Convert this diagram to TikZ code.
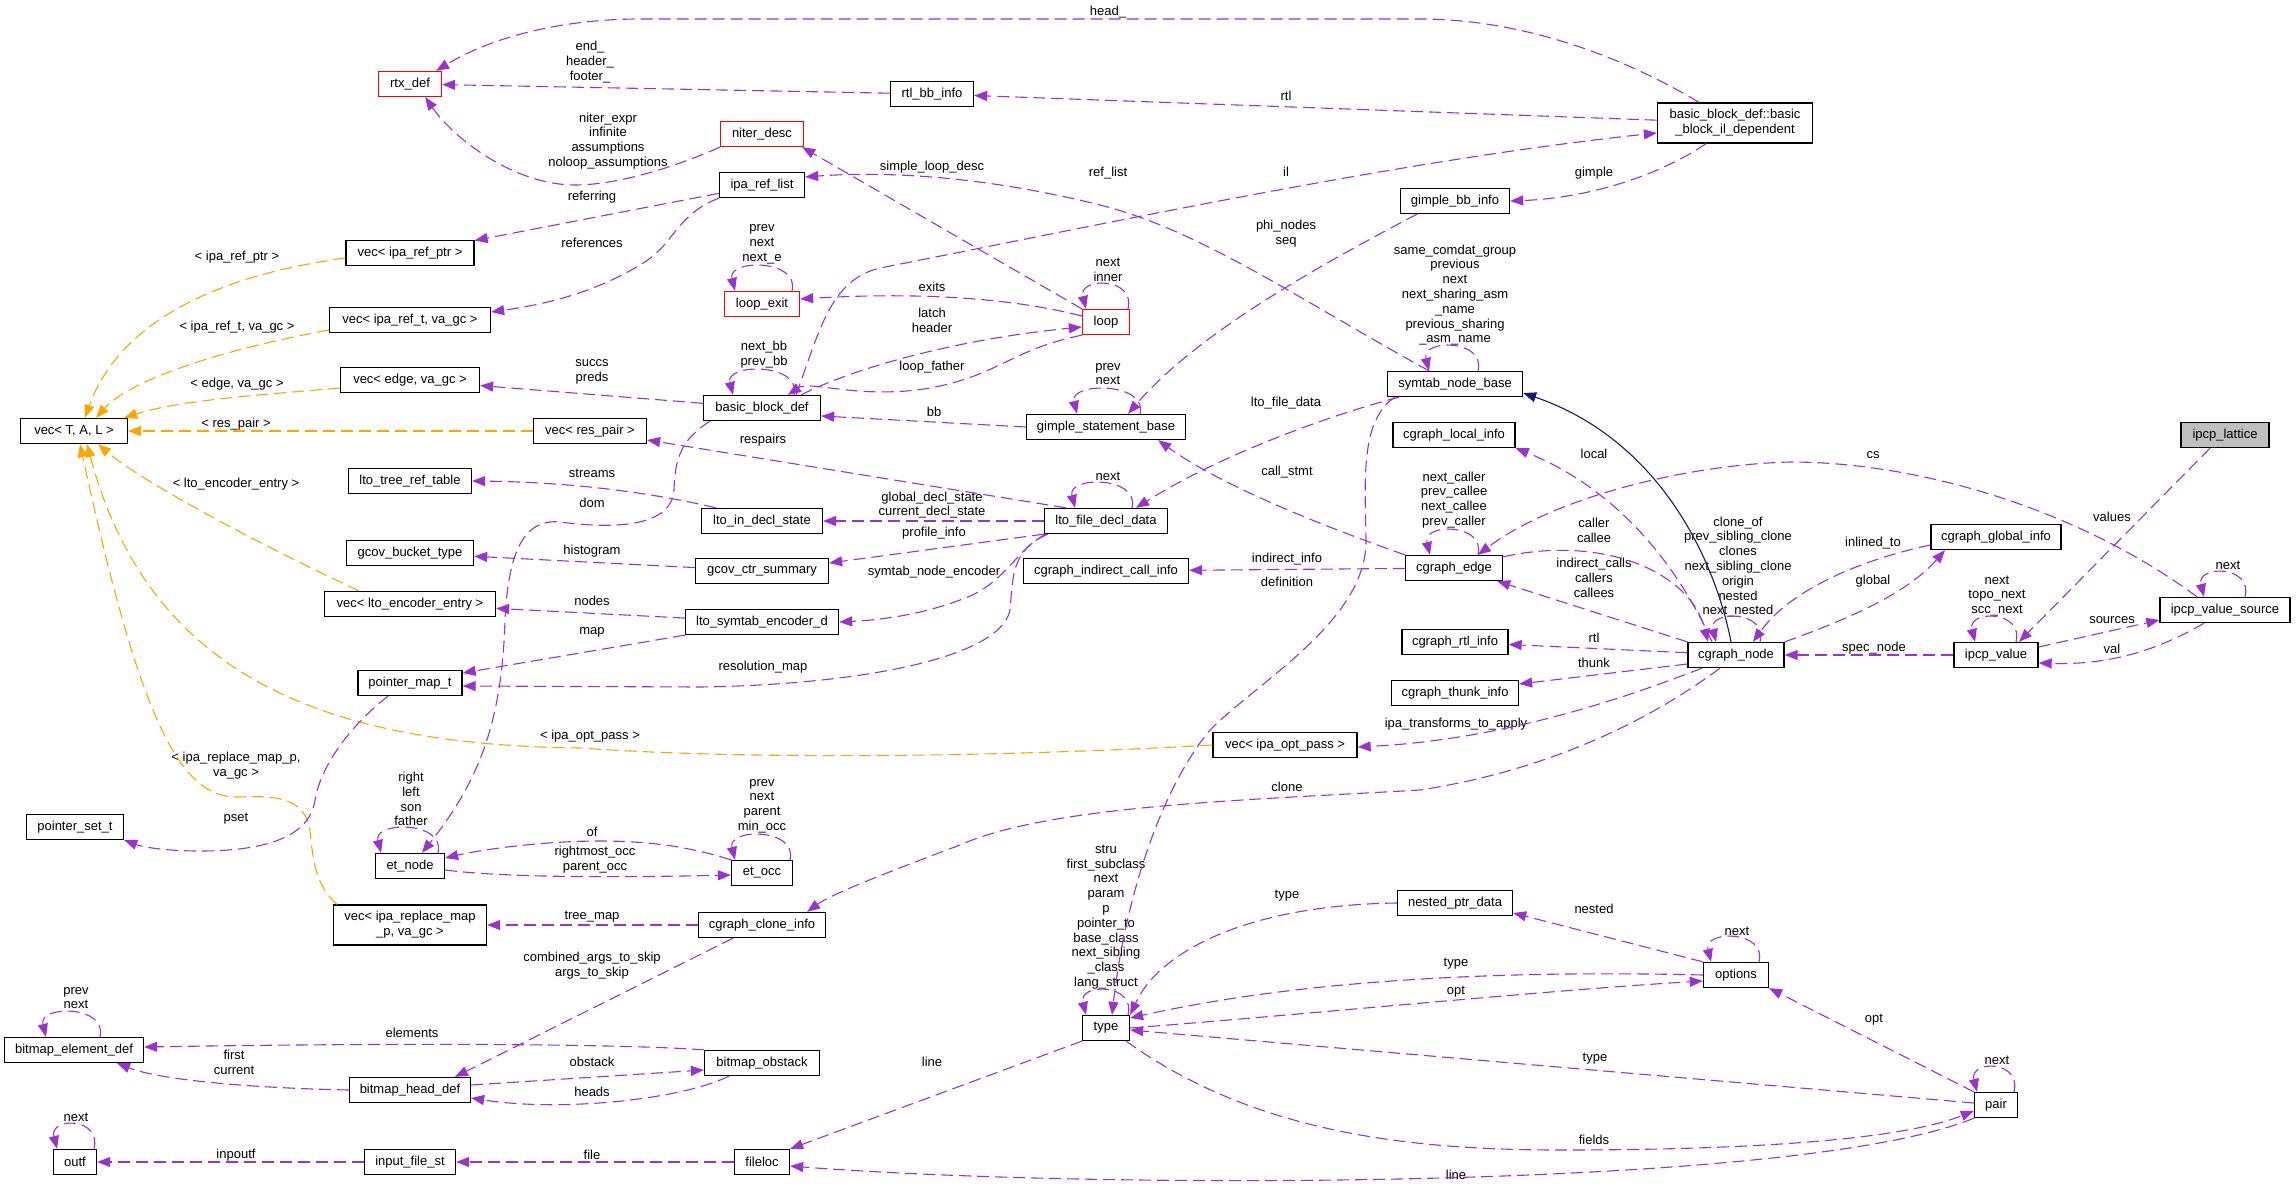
\documentclass[tikz,border=0pt]{standalone}
\usepackage{fontspec}
\setmainfont{Liberation Sans}
\usepackage{tikz}
\usetikzlibrary{arrows.meta}
\usepackage{xcolor}
\definecolor{depline}{RGB}{154,50,205}
\definecolor{tmplline}{RGB}{255,165,0}
\definecolor{inhline}{RGB}{25,25,112}
\definecolor{hotred}{RGB}{255,0,0}
\definecolor{rootgray}{RGB}{191,191,191}
\newcommand{\selfloop}[3]{\draw[dep] ([xshift=#2pt]#1.north) .. controls +(8,-32) and +(-8,-32) .. ([xshift=-#3pt]#1.north);}

\begin{document}
\begin{tikzpicture}[
  x=1pt, y=-1pt,
  box/.style={draw=black, line width=1.3pt, fill=white, minimum height=25pt, inner sep=2pt, align=center, font=\fontsize{13}{14.8}\selectfont},
  hot/.style={box, draw=hotred},
  root/.style={box, fill=rootgray},
  dep/.style={draw=depline, line width=1.1pt, dash pattern=on 12pt off 6pt, -{Triangle[length=13pt,width=10pt]}},
  tmpl/.style={dep, draw=tmplline},
  inh/.style={draw=inhline, line width=1.1pt, -{Triangle[length=13pt,width=10pt]}},
  lbl/.style={align=center, inner sep=0pt, font=\fontsize{13}{14.8}\selectfont}
]
\useasboundingbox (0,0) rectangle (2296,1188);

\node[hot, minimum width=63pt] (rtx) at (410,84) {rtx\_def};
\node[box, minimum width=83pt] (rtlbb) at (932,94) {rtl\_bb\_info};
\node[box, minimum width=155pt, minimum height=40pt] (bbil) at (1735,123) {basic\_block\_def::basic\\\_block\_il\_dependent};
\node[hot, minimum width=83pt] (niter) at (762,134) {niter\_desc};
\node[box, minimum width=85pt] (iparl) at (762,185) {ipa\_ref\_list};
\node[box, minimum width=128pt] (vecptr) at (410,253) {vec< ipa\_ref\_ptr >};
\node[box, minimum width=161pt] (vecref) at (410,320) {vec< ipa\_ref\_t, va\_gc >};
\node[box, minimum width=139pt] (vecedge) at (410,380) {vec< edge, va\_gc >};
\node[box, minimum width=107pt] (vectal) at (74,431) {vec< T, A, L >};
\node[box, minimum width=113pt] (vecres) at (590,431) {vec< res\_pair >};
\node[box, minimum width=117pt] (bb) at (762,408) {basic\_block\_def};
\node[hot, minimum width=75pt] (loopexit) at (762,304) {loop\_exit};
\node[hot, minimum width=47pt] (loop) at (1106,322) {loop};
\node[box, minimum width=109pt] (gbb) at (1455,201) {gimple\_bb\_info};
\node[box, minimum width=135pt] (symtab) at (1455,384) {symtab\_node\_base};
\node[box, minimum width=159pt] (gsb) at (1106,427) {gimple\_statement\_base};
\node[box, minimum width=123pt] (ltotree) at (410,481) {lto\_tree\_ref\_table};
\node[box, minimum width=121pt] (ltoin) at (762,521) {lto\_in\_decl\_state};
\node[box, minimum width=123pt] (ltofile) at (1106,521) {lto\_file\_decl\_data};
\node[box, minimum width=127pt] (gcovbucket) at (410,553) {gcov\_bucket\_type};
\node[box, minimum width=133pt] (gcovctr) at (762,571) {gcov\_ctr\_summary};
\node[box, minimum width=165pt] (indirect) at (1106,571) {cgraph\_indirect\_call\_info};
\node[box, minimum width=171pt] (vecenc) at (410,604) {vec< lto\_encoder\_entry >};
\node[box, minimum width=153pt] (symenc) at (762,622) {lto\_symtab\_encoder\_d};
\node[box, minimum width=104pt] (pmap) at (410,683) {pointer\_map\_t};
\node[box, minimum width=122pt] (localinfo) at (1454,435) {cgraph\_local\_info};
\node[box, minimum width=97pt] (cedge) at (1454,568) {cgraph\_edge};
\node[box, minimum width=106pt] (rtlinfo) at (1455,642) {cgraph\_rtl\_info};
\node[box, minimum width=127pt] (thunk) at (1455,693) {cgraph\_thunk\_info};
\node[box, minimum width=144pt] (vecopt) at (1285,745) {vec< ipa\_opt\_pass >};
\node[box, minimum width=96pt] (cnode) at (1736,655) {cgraph\_node};
\node[root, minimum width=88pt] (lattice) at (2225,435) {ipcp\_lattice};
\node[box, minimum width=130pt] (globalinfo) at (1996,537) {cgraph\_global\_info};
\node[box, minimum width=130pt] (vsource) at (2225,610) {ipcp\_value\_source};
\node[box, minimum width=84pt] (ipcpval) at (1996,655) {ipcp\_value};
\node[box, minimum width=97pt] (pset) at (75,827) {pointer\_set\_t};
\node[box, minimum width=69pt] (etnode) at (410,866) {et\_node};
\node[box, minimum width=153pt, minimum height=40pt] (vecrep) at (410,925) {vec< ipa\_replace\_map\\\_p, va\_gc >};
\node[box, minimum width=139pt] (bed) at (74,1050) {bitmap\_element\_def};
\node[box, minimum width=121pt] (bhd) at (410,1090) {bitmap\_head\_def};
\node[box, minimum width=43pt] (outf) at (75,1162) {outf};
\node[box, minimum width=91pt] (infile) at (410,1162) {input\_file\_st};
\node[box, minimum width=61pt] (etocc) at (762,873) {et\_occ};
\node[box, minimum width=127pt] (cloneinfo) at (762,925) {cgraph\_clone\_info};
\node[box, minimum width=115pt] (bobstack) at (762,1063) {bitmap\_obstack};
\node[box, minimum width=55pt] (fileloc) at (762,1162) {fileloc};
\node[box, minimum width=47pt] (type) at (1106,1028) {type};
\node[box, minimum width=115pt] (nptr) at (1455,903) {nested\_ptr\_data};
\node[box, minimum width=65pt] (options) at (1736,975) {options};
\node[box, minimum width=43pt] (pair) at (1996,1105) {pair};

\node[lbl] (lHead) at (1108,12) {head\_};
\node[lbl] (lEnd) at (590,62) {end\_\\header\_\\footer\_};
\node[lbl] (lRtl) at (1286,96) {rtl};
\node[lbl] (lNiter) at (608,141) {niter\_expr\\infinite\\assumptions\\noloop\_assumptions};
\node[lbl] (lSimple) at (932,167) {simple\_loop\_desc};
\node[lbl] (lRefList) at (1108,173) {ref\_list};
\node[lbl] (lIl) at (1286,172) {il};
\node[lbl] (lGimple) at (1594,173) {gimple};
\node[lbl] (lReferring) at (592,197) {referring};
\node[lbl] (lPhi) at (1286,234) {phi\_nodes\\seq};
\node[lbl] (lReferences) at (592,243) {references};
\node[lbl] (lExitLoop) at (762,244) {prev\\next\\next\_e};
\node[lbl] (lLoopLoop) at (1108,270) {next\\inner};
\node[lbl] (lSymLoop) at (1455,295) {same\_comdat\_group\\previous\\next\\next\_sharing\_asm\\\_name\\previous\_sharing\\\_asm\_name};
\node[lbl] (lExits) at (932,287) {exits};
\node[lbl] (lLatch) at (932,320) {latch\\header};
\node[lbl] (lBbLoop) at (764,355) {next\_bb\\prev\_bb};
\node[lbl] (lLoopFather) at (932,367) {loop\_father};
\node[lbl] (lSuccs) at (592,372) {succs\\preds};
\node[lbl] (lGsbLoop) at (1108,374) {prev\\next};
\node[lbl] (lIpaRefPtr) at (237,257) {< ipa\_ref\_ptr >};
\node[lbl] (lIpaRefT) at (237,327) {< ipa\_ref\_t, va\_gc >};
\node[lbl] (lEdgeVa) at (237,384) {< edge, va\_gc >};
\node[lbl] (lResPair) at (236,424) {< res\_pair >};
\node[lbl] (lEncEntry) at (236,484) {< lto\_encoder\_entry >};
\node[lbl] (lOptPass) at (590,736) {< ipa\_opt\_pass >};
\node[lbl] (lRepMap) at (236,766) {< ipa\_replace\_map\_p,\\va\_gc >};
\node[lbl] (lLtoFileData) at (1286,403) {lto\_file\_data};
\node[lbl] (lBb) at (934,412) {bb};
\node[lbl] (lRespairs) at (763,440) {respairs};
\node[lbl] (lStreams) at (592,473) {streams};
\node[lbl] (lFileLoop) at (1108,476) {next};
\node[lbl] (lDom) at (592,503) {dom};
\node[lbl] (lDeclState) at (932,505) {global\_decl\_state\\current\_decl\_state};
\node[lbl] (lProfile) at (934,533) {profile\_info};
\node[lbl] (lHistogram) at (592,551) {histogram};
\node[lbl] (lSymEnc) at (934,572) {symtab\_node\_encoder};
\node[lbl] (lNodes) at (592,601) {nodes};
\node[lbl] (lMap) at (592,632) {map};
\node[lbl] (lResMap) at (763,667) {resolution\_map};
\node[lbl] (lCallStmt) at (1287,472) {call\_stmt};
\node[lbl] (lLocal) at (1594,454) {local};
\node[lbl] (lEdgeLoop) at (1454,500) {next\_caller\\prev\_callee\\next\_callee\\prev\_caller};
\node[lbl] (lCaller) at (1594,530) {caller\\callee};
\node[lbl] (lIndInfo) at (1287,559) {indirect\_info};
\node[lbl] (lDefinition) at (1287,582) {definition};
\node[lbl] (lCallers) at (1594,578) {indirect\_calls\\callers\\callees};
\node[lbl] (lRtlInfo) at (1594,638) {rtl};
\node[lbl] (lThunk) at (1594,663) {thunk};
\node[lbl] (lTransforms) at (1456,724) {ipa\_transforms\_to\_apply};
\node[lbl] (lClone) at (1287,787) {clone};
\node[lbl] (lNodeLoop) at (1738,567) {clone\_of\\prev\_sibling\_clone\\clones\\next\_sibling\_clone\\origin\\nested\\next\_nested};
\node[lbl] (lCs) at (1873,455) {cs};
\node[lbl] (lValues) at (2112,517) {values};
\node[lbl] (lInlined) at (1873,543) {inlined\_to};
\node[lbl] (lGlobal) at (1873,581) {global};
\node[lbl] (lValLoop) at (1997,596) {next\\topo\_next\\scc\_next};
\node[lbl] (lSrcLoop) at (2228,565) {next};
\node[lbl] (lSources) at (2112,620) {sources};
\node[lbl] (lSpec) at (1874,648) {spec\_node};
\node[lbl] (lVal) at (2112,649) {val};
\node[lbl] (lPset) at (236,819) {pset};
\node[lbl] (lEtLoop) at (411,799) {right\\left\\son\\father};
\node[lbl] (lOccLoop) at (762,806) {prev\\next\\parent\\min\_occ};
\node[lbl] (lOf) at (592,832) {of};
\node[lbl] (lRightmost) at (595,860) {rightmost\_occ\\parent\_occ};
\node[lbl] (lTreeMap) at (592,917) {tree\_map};
\node[lbl] (lTypeLoop) at (1106,917) {stru\\first\_subclass\\next\\param\\p\\pointer\_to\\base\_class\\next\_sibling\\\_class\\lang\_struct};
\node[lbl] (lNestedType) at (1287,896) {type};
\node[lbl] (lNested) at (1594,909) {nested};
\node[lbl] (lOptLoop) at (1737,931) {next};
\node[lbl] (lOptType) at (1456,964) {type};
\node[lbl] (lOptOpt) at (1456,992) {opt};
\node[lbl] (lPairOpt) at (1874,1020) {opt};
\node[lbl] (lArgs) at (592,966) {combined\_args\_to\_skip\\args\_to\_skip};
\node[lbl] (lBedLoop) at (76,998) {prev\\next};
\node[lbl] (lElements) at (412,1033) {elements};
\node[lbl] (lFirst) at (234,1062) {first\\current};
\node[lbl] (lObstack) at (592,1062) {obstack};
\node[lbl] (lLine) at (932,1062) {line};
\node[lbl] (lPairLoop) at (1997,1060) {next};
\node[lbl] (lPairType) at (1595,1059) {type};
\node[lbl] (lHeads) at (592,1092) {heads};
\node[lbl] (lOutfLoop) at (76,1117) {next};
\node[lbl] (lFields) at (1594,1140) {fields};
\node[lbl] (lInpoutf) at (236,1155) {inpoutf};
\node[lbl] (lFile) at (592,1155) {file};
\node[lbl] (lPairLine) at (1456,1175) {line};

\draw[dep] ([xshift=-36pt]bbil.north) .. controls (1620,55) and (1520,19) .. (1420,19) -- (640,19) .. controls (560,19) and (490,38) .. ([xshift=-6pt]rtx.north east);
\draw[dep] (rtlbb) -- (rtx);
\draw[dep] (bbil) -- (rtlbb);
\draw[dep] (niter.south west) .. controls (680,165) and (620,185) .. (575,185) .. controls (515,185) and (455,140) .. ([xshift=-17pt]rtx.south east);
\draw[dep] (iparl) -- (vecptr);
\draw[dep] (iparl.south west) .. controls (675,215) and (675,245) .. (640,265) .. controls (590,295) and (540,305) .. ([yshift=8pt]vecref.east);
\draw[tmpl] ([yshift=-5pt]vecptr.west) .. controls (220,275) and (120,320) .. ([xshift=11pt]vectal.north);
\draw[tmpl] ([yshift=-10pt]vecref.west) .. controls (220,350) and (130,380) .. ([xshift=22pt]vectal.north);
\draw[tmpl] ([yshift=-8pt]vecedge.west) .. controls (260,395) and (180,400) .. ([xshift=-4pt]vectal.north east);
\draw[tmpl] (vecres) -- (vectal);
\draw[tmpl] ([xshift=-51pt]vecenc.north) .. controls (250,540) and (140,480) .. ([xshift=24pt]vectal.south);
\draw[tmpl] (vecopt.west) .. controls (1000,757) and (750,760) .. (580,748) .. controls (330,745) and (150,680) .. ([xshift=13pt]vectal.south);
\draw[tmpl] ([xshift=-73pt]vecrep.north) .. controls (315,885) and (313,860) .. (310,830) .. controls (305,800) and (280,795) .. (240,797) .. controls (180,800) and (140,720) .. ([xshift=6pt]vectal.south);
\draw[dep] (bb) -- (vecedge);
\selfloop{bb}{32}{29}
\draw[dep] ([xshift=-20pt]bb.north east) .. controls (850,370) and (950,340) .. ([yshift=-5pt]loop.west);
\draw[dep] (loop.south west) .. controls (1010,350) and (1000,375) .. (930,388) .. controls (860,400) and (810,380) .. ([xshift=26pt]bb.north);
\draw[dep] ([yshift=6pt]loop.west) .. controls (1000,295) and (900,293) .. ([yshift=5pt]loopexit.east);
\selfloop{loopexit}{30}{27}
\selfloop{loop}{22}{20}
\draw[dep] (loop.north west) -- ([xshift=-2pt]niter.south east);
\draw[dep] ([xshift=34pt]bb.north) .. controls (820,330) and (830,280) .. (880,268) .. controls (1100,225) and (1400,160) .. ([yshift=-10pt]bbil.west);
\draw[dep] ([xshift=-26pt]symtab.north) .. controls (1300,300) and (1200,230) .. (1100,205) .. controls (1000,180) and (900,170) .. ([yshift=8pt]iparl.east);
\draw[dep] ([xshift=-29pt]bbil.south) .. controls (1660,175) and (1590,198) .. (gbb.east);
\draw[dep] ([xshift=-38pt]gbb.south) .. controls (1330,260) and (1200,330) .. ([xshift=22pt]gsb.north);
\draw[dep] (gsb.west) -- ([yshift=-8pt]bb.east);
\selfloop{gsb}{34}{29}
\draw[dep] ([xshift=-40pt]ltofile.north) -- ([yshift=-9pt]vecres.east);
\draw[dep] ([xshift=-56pt]symtab.south) .. controls (1330,415) and (1220,455) .. ([xshift=30pt]ltofile.north);
\selfloop{ltofile}{26}{31}
\draw[dep] ([xshift=-46pt]ltoin.north) .. controls (640,490) and (560,482) .. (ltotree.east);
\draw[dep] ([xshift=-52pt]bb.south) .. controls (680,440) and (675,460) .. (674,490) .. controls (672,525) and (620,530) .. (560,522) .. controls (520,518) and (508,560) .. (505,620) .. controls (502,720) and (480,780) .. ([xshift=12pt]etnode.north);
\draw[dep] (ltofile) -- (ltoin);
\draw[dep] (ltofile.south west) -- ([yshift=8pt]gcovctr.east);
\draw[dep] (gcovctr) -- (gcovbucket);
\draw[dep] ([xshift=2pt]ltofile.south west) .. controls (1015,550) and (1005,585) .. (960,600) .. controls (920,615) and (880,620) .. (symenc.east);
\draw[dep] ([xshift=4pt]ltofile.south west) .. controls (1010,550) and (1013,580) .. (1010,610) .. controls (1000,660) and (850,685) .. (700,687) -- ([yshift=-3pt]pmap.east);
\draw[dep] (symenc) -- (vecenc);
\draw[dep] (symenc.south west) -- ([yshift=10pt]pmap.east);
\draw[dep] ([xshift=-22pt]pmap.south) .. controls (345,730) and (320,770) .. (315,800) .. controls (310,835) and (270,851) .. (200,851) .. controls (160,851) and (140,846) .. (pset.south east);
\selfloop{etnode}{28}{29}
\draw[dep] (etocc.north west) .. controls (700,850) and (660,841) .. (600,841) .. controls (540,841) and (480,850) .. ([yshift=8pt]etnode.east);
\draw[dep] ([yshift=-4pt]etnode.east) .. controls (500,877) and (600,878) .. ([yshift=-2pt]etocc.west);
\selfloop{etocc}{28}{27}
\draw[dep] ([xshift=-16pt]cnode.south) .. controls (1650,720) and (1550,770) .. (1420,790) .. controls (1250,800) and (1050,805) .. (960,845) .. controls (880,875) and (830,895) .. ([xshift=-19pt]cloneinfo.north east);
\draw[dep] (cloneinfo) -- (vecrep);
\draw[dep] ([xshift=-29pt]cloneinfo.south) -- ([xshift=45pt]bhd.north);
\draw[dep] (bobstack.north west) .. controls (640,1045) and (450,1042) .. ([yshift=3pt]bed.east);
\draw[dep] ([yshift=5pt]bhd.east) -- ([yshift=-7pt]bobstack.west);
\draw[dep] ([xshift=-33pt]bobstack.south) .. controls (680,1100) and (560,1112) .. ([yshift=-8pt]bhd.east);
\draw[dep] (bhd.west) .. controls (250,1088) and (160,1080) .. ([xshift=43pt]bed.south);
\selfloop{bed}{26}{28}
\draw[dep] (infile) -- (outf);
\selfloop{outf}{19}{18}
\draw[dep] (fileloc) -- (infile);
\draw[dep] (type.south west) -- (fileloc.north east);
\draw[dep] (pair.south west) .. controls (1800,1190) and (1100,1190) .. ([yshift=-4pt]fileloc.east);
\draw[dep] ([xshift=-4pt]type.south east) .. controls (1250,1130) and (1400,1150) .. (1560,1150) .. controls (1750,1150) and (1900,1140) .. ([yshift=-6pt]pair.west);
\draw[dep] ([yshift=2pt]pair.west) -- ([yshift=-2pt]type.east);
\draw[dep] (pair.north west) -- (options.south east);
\draw[dep] (options.west) .. controls (1500,970) and (1300,980) .. ([yshift=10pt]type.east);
\draw[dep] (type.east) .. controls (1300,1015) and (1550,990) .. ([yshift=-6pt]options.west);
\draw[dep] (options.north west) -- ([yshift=-10pt]nptr.east);
\draw[dep] (nptr.west) .. controls (1250,905) and (1160,950) .. (type.north east);
\selfloop{options}{23}{25}
\selfloop{pair}{18}{19}
\selfloop{type}{22}{20}
\draw[dep] ([xshift=-60pt]symtab.south) .. controls (1360,420) and (1365,480) .. (1366,540) .. controls (1367,620) and (1260,680) .. (1210,730) .. controls (1160,790) and (1125,900) .. ([xshift=6pt]type.north);
\draw[inh] ([xshift=-5pt]cnode.north) .. controls (1715,560) and (1660,440) .. ([yshift=-9pt]symtab.east);
\draw[dep] ([xshift=-24pt]cnode.north) .. controls (1680,570) and (1620,490) .. (localinfo.south east);
\draw[dep] (cedge.north west) .. controls (1320,525) and (1220,485) .. ([xshift=-28pt]gsb.south east);
\selfloop{cedge}{24}{24}
\selfloop{symtab}{23}{26}
\draw[dep] (cedge) -- (indirect);
\draw[dep] ([yshift=-2pt]cedge.north east) .. controls (1600,535) and (1690,570) .. ([xshift=-28pt]cnode.north);
\draw[dep] (cnode.north west) -- ([xshift=-6pt]cedge.south east);
\draw[dep] ([xshift=-28pt]vsource.north) .. controls (2080,510) and (1920,462) .. (1790,462) .. controls (1680,465) and (1550,500) .. ([xshift=24pt]cedge.north);
\draw[dep] (cnode) -- (rtlinfo);
\draw[dep] ([yshift=-9pt]cnode.west) -- ([yshift=9pt]thunk.east);
\draw[dep] ([xshift=-34pt]cnode.south) .. controls (1620,700) and (1500,740) .. ([yshift=-2pt]vecopt.east);
\selfloop{cnode}{24}{20}
\draw[dep] ([yshift=-8pt]globalinfo.west) .. controls (1860,560) and (1790,590) .. ([xshift=17pt]cnode.north);
\draw[dep] (cnode.north east) .. controls (1860,615) and (1910,590) .. ([xshift=-51pt]globalinfo.south);
\draw[dep] (ipcpval) -- (cnode);
\draw[dep] ([yshift=8pt]ipcpval.east) -- ([yshift=-10pt]vsource.west);
\draw[dep] ([xshift=-21pt]vsource.south) .. controls (2150,655) and (2100,665) .. ([yshift=-8pt]ipcpval.east);
\draw[dep] ([xshift=-15pt]lattice.south) -- ([xshift=23pt]ipcpval.north);
\selfloop{ipcpval}{20}{21}
\selfloop{vsource}{20}{21}
\end{tikzpicture}
\end{document}
